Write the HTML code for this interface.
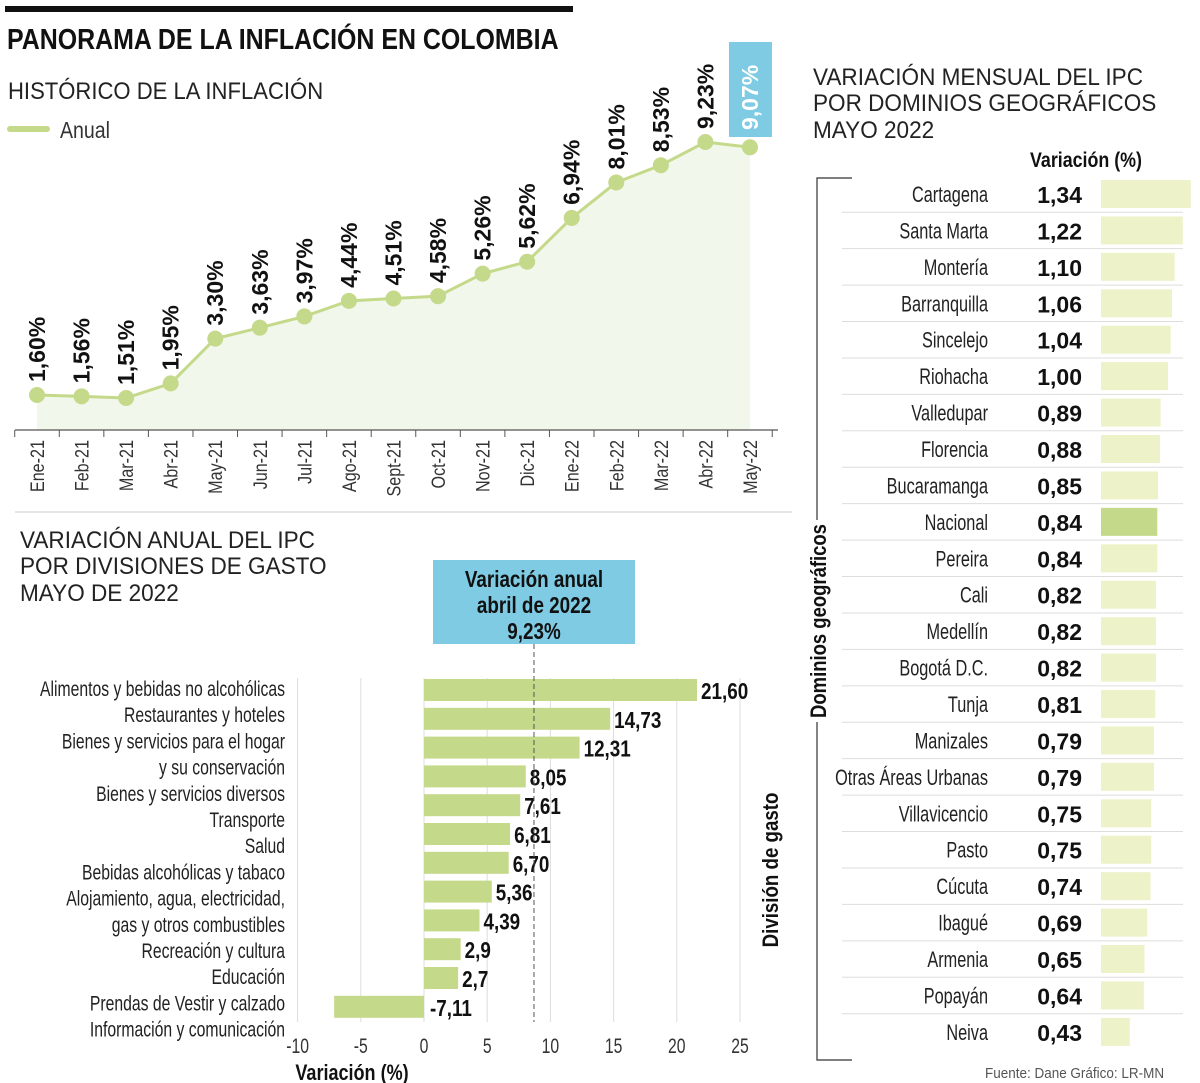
<!DOCTYPE html>
<html><head><meta charset="utf-8">
<style>
html,body{margin:0;padding:0;background:#fff;}
svg{display:block;font-family:"Liberation Sans",sans-serif;}
.b{font-weight:bold;}
</style></head>
<body>
<svg id="s" width="1200" height="1083" viewBox="0 0 1200 1083" xmlns="http://www.w3.org/2000/svg">
<rect x="5" y="6" width="568" height="6" fill="#111"/>
<text x="7" y="49" font-size="29" class="b" fill="#111" data-sx="0.86">PANORAMA DE LA INFLACIÓN EN COLOMBIA</text>
<text x="8" y="99" font-size="24" fill="#222" data-sx="0.92">HISTÓRICO DE LA INFLACIÓN</text>
<line x1="10" y1="129" x2="47" y2="129" stroke="#c5d98a" stroke-width="6" stroke-linecap="round"/>
<text x="60" y="138" font-size="23" fill="#333" data-sx="0.85">Anual</text>
<g id="line"></g>
<line x1="15" y1="512" x2="792" y2="512" stroke="#ccc" stroke-width="1"/>
<text x="20" y="548" font-size="24" fill="#222" data-sx="0.94">VARIACIÓN ANUAL DEL IPC</text>
<text x="20" y="574" font-size="24" fill="#222" data-sx="0.94">POR DIVISIONES DE GASTO</text>
<text x="20" y="601" font-size="24" fill="#222" data-sx="0.94">MAYO DE 2022</text>
<g id="bars"></g>
<text x="813" y="85" font-size="24" fill="#222" data-sx="0.94">VARIACIÓN MENSUAL DEL IPC</text>
<text x="813" y="111" font-size="24" fill="#222" data-sx="0.94">POR DOMINIOS GEOGRÁFICOS</text>
<text x="813" y="138" font-size="24" fill="#222" data-sx="0.94">MAYO 2022</text>
<text x="1030" y="167" font-size="21" class="b" fill="#111" data-sx="0.85">Variación (%)</text>
<g id="tbl"></g>
<text x="985" y="1078" font-size="15" fill="#555" data-sx="0.9">Fuente: Dane   Gráfico: LR-MN</text>
</svg>
<script>
const NS="http://www.w3.org/2000/svg";
function mk(parent,tag,attrs,txt){const e=document.createElementNS(NS,tag);for(const k in attrs)e.setAttribute(k,attrs[k]);if(txt!==undefined)e.textContent=txt;parent.appendChild(e);return e;}

// ---- Line chart data
const months=["Ene-21","Feb-21","Mar-21","Abr-21","May-21","Jun-21","Jul-21","Ago-21","Sept-21","Oct-21","Nov-21","Dic-21","Ene-22","Feb-22","Mar-22","Abr-22","May-22"];
const inflation=[1.60,1.56,1.51,1.95,3.30,3.63,3.97,4.44,4.51,4.58,5.26,5.62,6.94,8.01,8.53,9.23,9.07];
const inflationLabels=["1,60%","1,56%","1,51%","1,95%","3,30%","3,63%","3,97%","4,44%","4,51%","4,58%","5,26%","5,62%","6,94%","8,01%","8,53%","9,23%","9,07%"];

// ---- Bar chart data
const divisions=["Alimentos y bebidas no alcohólicas","Restaurantes y hoteles","Bienes y servicios para el hogar","y su conservación","Bienes y servicios diversos","Transporte","Salud","Bebidas alcohólicas y tabaco","Alojamiento, agua, electricidad,","gas y otros combustibles","Recreación y cultura","Educación","Prendas de Vestir y calzado","Información y comunicación"];
const divValues=[21.60,14.73,12.31,8.05,7.61,6.81,6.70,5.36,4.39,2.9,2.7,-7.11];
const divValueLabels=["21,60","14,73","12,31","8,05","7,61","6,81","6,70","5,36","4,39","2,9","2,7","-7,11"];
const xTicks=[-10,-5,0,5,10,15,20,25];
const refValue=8.7;

// ---- Table data
const cities=["Cartagena","Santa Marta","Montería","Barranquilla","Sincelejo","Riohacha","Valledupar","Florencia","Bucaramanga","Nacional","Pereira","Cali","Medellín","Bogotá D.C.","Tunja","Manizales","Otras Áreas Urbanas","Villavicencio","Pasto","Cúcuta","Ibagué","Armenia","Popayán","Neiva"];
const cityValues=[1.34,1.22,1.10,1.06,1.04,1.00,0.89,0.88,0.85,0.84,0.84,0.82,0.82,0.82,0.81,0.79,0.79,0.75,0.75,0.74,0.69,0.65,0.64,0.43];
const cityLabels=["1,34","1,22","1,10","1,06","1,04","1,00","0,89","0,88","0,85","0,84","0,84","0,82","0,82","0,82","0,81","0,79","0,79","0,75","0,75","0,74","0,69","0,65","0,64","0,43"];

// ===== line chart
(function(){
 const g=document.getElementById('line');
 const x=i=>37+i*44.56;
 const y=v=>395-(v-1.6)*33.16;
 const base=430;
 let d="M"+x(0)+","+base;
 inflation.forEach((v,i)=>d+=" L"+x(i)+","+y(v));
 d+=" L"+x(inflation.length-1)+","+base+" Z";
 const area=mk(g,'path',{d:d,fill:"#f1f7ea"});
 
 
 let pd="";inflation.forEach((v,i)=>pd+=(i?" L":"M")+x(i)+","+y(v));
 const ln=mk(g,'path',{d:pd,fill:"none",stroke:"#c5d98a","stroke-width":3});
 
 
 const last=inflation.length-1;
 const box=mk(g,'rect',{x:x(last)-21,y:42,width:43,height:95,fill:"#7ecbe3"});
 
 
 const ax=mk(g,'line',{x1:15,y1:base,x2:778,y2:base,stroke:"#555","stroke-width":1.2});
 
 
 for(let i=0;i<=months.length;i++){const tx=x(i)-22.28;const t=mk(g,'line',{x1:tx,y1:base,x2:tx,y2:base+7,stroke:"#555"});}
 inflation.forEach((v,i)=>{
  const c=mk(g,'circle',{cx:x(i),cy:y(v),r:8,fill:"#c5d98a"});
  
  
  const ly=i===last?130:y(v)-13;
  const t=mk(g,'text',{x:0,y:0,transform:"translate("+(x(i)+8)+","+ly+") rotate(-90)","font-size":23,"font-weight":"bold",fill:i===last?"#fff":"#111"},inflationLabels[i]);
  
  
  const m=mk(g,'text',{x:0,y:0,transform:"translate("+(x(i)+7)+",440) rotate(-90) scale(0.85,1)","font-size":19,"text-anchor":"end",fill:"#333"},months[i]);
  
  
 });
})();

// ===== bar chart
(function(){
 const g=document.getElementById('bars');
 const x=v=>424+v*12.64;
 const yc=i=>690+i*28.8;
 xTicks.forEach(t=>{
  const gl=mk(g,'line',{x1:x(t),y1:678,x2:x(t),y2:1022,stroke:"#ddd","stroke-width":1});
  
  
  const tl=mk(g,'text',{x:x(t),y:1053,"font-size":21,"text-anchor":"middle",fill:"#333","data-sx":"0.75"},String(t));
  
  
 });
 const bx=mk(g,'rect',{x:433,y:560,width:202,height:84,fill:"#7ecbe3"});
 
 
 [["Variación anual",587],["abril de 2022",613],["9,23%",639]].forEach(a=>{const t=mk(g,'text',{x:534,y:a[1],"font-size":23,"font-weight":"bold","text-anchor":"middle",fill:"#111","data-sx":"0.82"},a[0]);});
 divisions.forEach((n,i)=>{const t=mk(g,'text',{x:285,y:696+i*26.2,"font-size":21,"text-anchor":"end",fill:"#222","data-sx":"0.75"},n);});
 divValues.forEach((v,i)=>{
  const x0=Math.min(x(0),x(v)),w=Math.abs(x(v)-x(0));
  const r=mk(g,'rect',{x:x0,y:yc(i)-11,width:w,height:22,fill:"#c5d98a"});
  
  
  const lx=v>=0?x(v)+4:x(0)+6;
  const t=mk(g,'text',{x:lx,y:yc(i)+9,"font-size":23,"font-weight":"bold",fill:"#111","data-sx":"0.82"},divValueLabels[i]);
  
  
 });
 const dl=mk(g,'line',{x1:x(refValue),y1:644,x2:x(refValue),y2:1022,stroke:"#555","stroke-dasharray":"5,3"});
 
 
 const xt=mk(g,'text',{x:352,y:1080,"font-size":22,"font-weight":"bold","text-anchor":"middle",fill:"#111","data-sx":"0.82"},"Variación (%)");
 
 
 const yt=mk(g,'text',{x:0,y:0,transform:"translate(778,870) rotate(-90) scale(0.85,1)","font-size":22,"font-weight":"bold","text-anchor":"middle",fill:"#111"},"División de gasto");
 
 
})();

// ===== table
(function(){
 const g=document.getElementById('tbl');
 const yc=i=>194+i*36.43;
 const bw=v=>v*67;
 const br=mk(g,'path',{d:"M852,178 L817,178 L817,1060 L852,1060",fill:"none",stroke:"#333","stroke-width":1.2});
 
 
 const bg=mk(g,'rect',{x:806,y:520,width:24,height:202,fill:"#fff"});
 
 
 const yl=mk(g,'text',{x:0,y:0,transform:"translate(826,621) rotate(-90) scale(0.84,1)","font-size":22,"font-weight":"bold","text-anchor":"middle",fill:"#111"},"Dominios geográficos");
 
 
 cities.forEach((c,i)=>{
  if(i>0){const s=mk(g,'line',{x1:842,y1:yc(i)-18.2,x2:1183,y2:yc(i)-18.2,stroke:"#ddd"});}
  const n=mk(g,'text',{x:988,y:yc(i)+8,"font-size":22,"text-anchor":"end",fill:"#222","data-sx":"0.74"},c);
  
  
  const v=mk(g,'text',{x:1082,y:yc(i)+9,"font-size":23,"font-weight":"bold","text-anchor":"end",fill:"#111"},cityLabels[i]);
  
  
  const r=mk(g,'rect',{x:1101,y:yc(i)-14,width:bw(cityValues[i]),height:28,fill:c==="Nacional"?"#c5d98a":"#eef2c9"});
  
  
 });
})();

// condense text horizontally
document.querySelectorAll('text[data-sx]').forEach(t=>{
 const sx=t.getAttribute('data-sx'),x=t.getAttribute('x'),y=t.getAttribute('y');
 t.setAttribute('transform','translate('+x+','+y+') scale('+sx+',1)');
 t.setAttribute('x',0);t.setAttribute('y',0);
});
</script>
</body></html>
